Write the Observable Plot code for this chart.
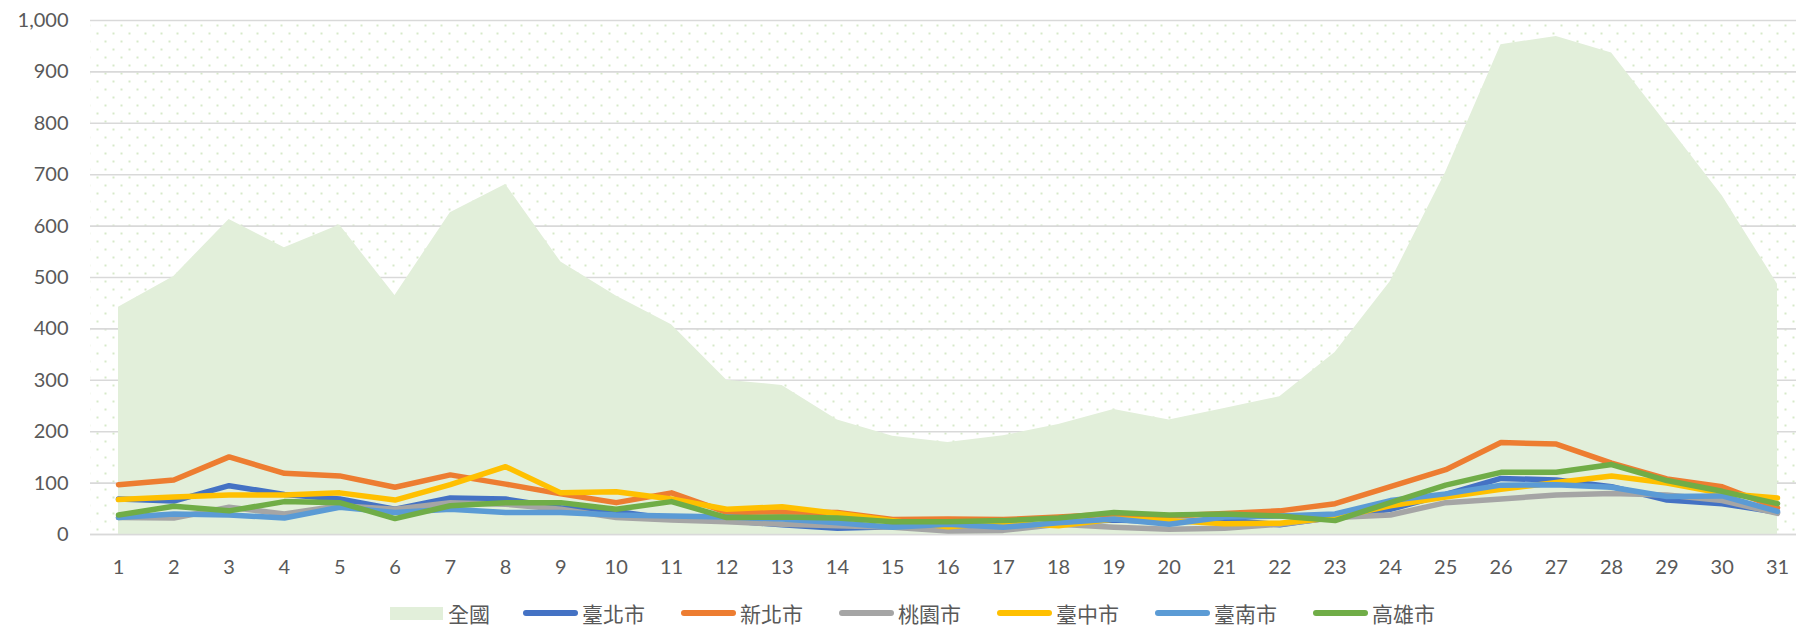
<!DOCTYPE html>
<html>
<head>
<meta charset="utf-8">
<script src="https://cdn.jsdelivr.net/npm/d3@7"></script>
<script src="https://cdn.jsdelivr.net/npm/@observablehq/plot@0.6"></script>
<style>
  html, body { margin: 0; padding: 0; background: #fff; width: 1796px; height: 627px; overflow: hidden; }
  #chart svg { display: block; }
  #legend { position: absolute; left: 390px; top: 601px; height: 24px; display: flex; align-items: center;
            font-family: "Noto Sans CJK TC", "Noto Sans CJK SC", sans-serif; font-size: 21px; line-height: 1; color: #595959; }
  .item { display: flex; align-items: center; margin-right: 36px; }
  .sw { width: 53px; height: 13px; margin-right: 5px; }
  .ln { width: 55px; height: 5.5px; border-radius: 3px; margin-right: 4px; }
</style>
</head>
<body>
<div id="chart"></div>
<div id="legend"></div>
<script>
const days = [1,2,3,4,5,6,7,8,9,10,11,12,13,14,15,16,17,18,19,20,21,22,23,24,25,26,27,28,29,30,31];
const yTicks = [0,100,200,300,400,500,600,700,800,900,1000];

const national  = [442,502,613,558,602,465,626,681,530,464,408,300,290,223,191,179,192,214,243,223,245,268,354,492,705,953,969,937,798,659,487];
const taipei    = [69,65,95,78,69,49,71,69,52,45,30,27,19,12,15,14,12,23,28,25,28,19,34,49,78,109,106,93,67,60,43];
const newTaipei = [97,106,151,119,114,92,116,98,79,62,81,43,44,43,29,30,29,34,40,36,41,46,60,93,126,179,176,139,108,93,52];
const taoyuan   = [33,32,53,40,56,49,62,59,49,33,28,25,20,17,14,7,8,20,14,10,12,20,33,38,62,69,77,80,77,66,41];
const taichung  = [68,73,77,77,81,67,97,132,81,83,69,49,54,41,27,15,23,17,30,27,21,22,33,56,73,88,101,114,100,80,71];
const tainan    = [33,40,38,32,53,43,49,43,43,38,36,34,30,23,14,20,14,23,30,20,34,36,40,66,79,96,97,92,74,75,45];
const kaohsiung = [38,55,46,64,62,31,56,62,62,49,64,33,34,32,25,25,27,32,43,38,40,36,27,62,96,121,121,136,105,84,60];

const areaName = "全國";
const areaColor = "#E2EFDA";
const seriesNames  = ["臺北市","新北市","桃園市","臺中市","臺南市","高雄市"];
const seriesValues = [taipei, newTaipei, taoyuan, taichung, tainan, kaohsiung];
const seriesColors = ["#4472C4","#ED7D31","#A5A5A5","#FFC000","#5B9BD5","#70AD47"];

const toRows = vals => days.map((d, i) => ({day: d, value: vals[i]}));

const marks = [
  Plot.frame({fill: "url(#dots)", stroke: null}),
  Plot.ruleY(yTicks, {stroke: "#D9D9D9", strokeWidth: 1.6}),
  Plot.areaY(toRows(national), {x: "day", y: "value", fill: areaColor}),
  Plot.ruleY([0], {stroke: "#D9D9D9", strokeWidth: 1.6}),
  ...seriesValues.map((vals, k) => Plot.line(toRows(vals), {
    x: "day", y: "value", stroke: seriesColors[k], strokeWidth: 5.5,
    strokeLinejoin: "round", strokeLinecap: "round"
  })),
  Plot.axisY(yTicks, {tickSize: 0, tickPadding: 22, tickFormat: d3.format(","), fontSize: 20}),
  Plot.axisX(days, {tickSize: 0, tickPadding: 25, fontSize: 20})
];

const svg = Plot.plot({
  width: 1796,
  height: 596,
  marginLeft: 90,
  marginRight: 0,
  marginTop: 20,
  marginBottom: 62,
  style: {fontFamily: "Lato, 'Open Sans', sans-serif", fontSize: "20px", color: "#595959", background: "#fff", overflow: "visible"},
  x: {type: "linear", domain: [1, 31], range: [118, 1777], label: null},
  y: {domain: [0, 1000], label: null},
  marks
});

const defs = d3.select(svg).insert("defs", ":first-child");
const pat = defs.append("pattern").attr("id", "dots").attr("width", 16).attr("height", 16).attr("patternUnits", "userSpaceOnUse");
pat.append("rect").attr("width", 16).attr("height", 16).attr("fill", "#fff");
pat.append("rect").attr("x", 0).attr("y", 0).attr("width", 2).attr("height", 2).attr("fill", "#D6E9C9");
pat.append("rect").attr("x", 8).attr("y", 8).attr("width", 2).attr("height", 2).attr("fill", "#D6E9C9");

document.getElementById("chart").appendChild(svg);

const legend = document.getElementById("legend");
const first = document.createElement("div");
first.className = "item";
first.style.marginRight = "33px";
first.innerHTML = `<div class="sw" style="background:${areaColor}"></div><span>${areaName}</span>`;
legend.appendChild(first);
seriesNames.forEach((name, k) => {
  const it = document.createElement("div");
  it.className = "item";
  it.innerHTML = `<div class="ln" style="background:${seriesColors[k]}"></div><span>${name}</span>`;
  legend.appendChild(it);
});
</script>
</body>
</html>
